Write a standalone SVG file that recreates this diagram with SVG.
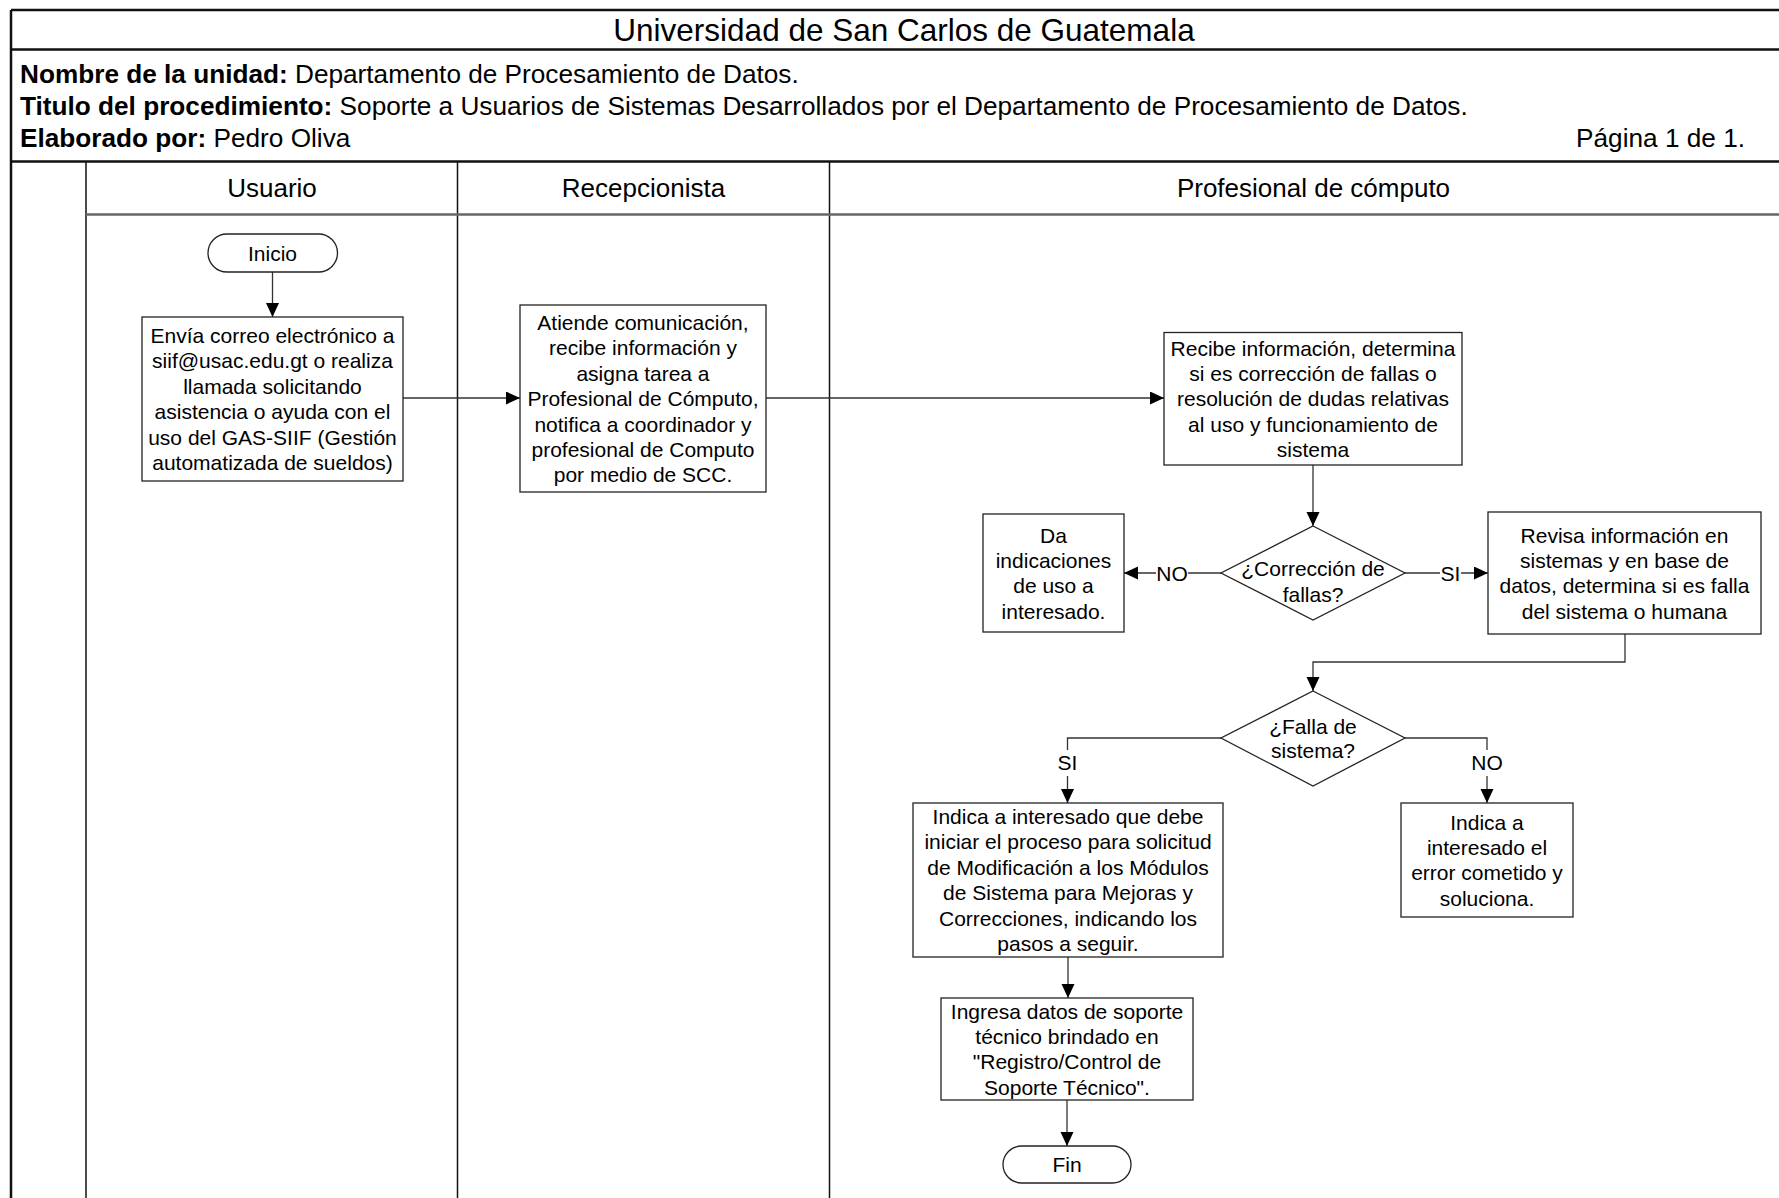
<svg xmlns="http://www.w3.org/2000/svg" width="1779" height="1198" viewBox="0 0 1779 1198">
<defs>
<marker id="ah" markerUnits="userSpaceOnUse" markerWidth="15" markerHeight="14" refX="14" refY="6.5" orient="auto">
<path d="M0,0 L14,6.5 L0,13 z" fill="#000"/>
</marker>
<style>
text{font-family:"Liberation Sans",Arial,sans-serif;fill:#000}
.t{font-size:21px;text-anchor:middle}
.h{font-size:26px;text-anchor:middle}
.i{font-size:26.2px}
.b{font-weight:bold}
.box{fill:#fff;stroke:#222;stroke-width:1.3}
.frame{stroke:#111;stroke-width:2.5;fill:none}
.lane{stroke:#111;stroke-width:1.5;fill:none}
.hl{stroke:#666;stroke-width:2.5;fill:none}
.c{stroke:#333;stroke-width:1.3;fill:none}
.ca{stroke:#333;stroke-width:1.3;fill:none;marker-end:url(#ah)}
.lbl{fill:#fff;stroke:none}
</style>
</defs>
<rect width="1779" height="1198" fill="#fff"/>
<g id="frame">
<line class="frame" x1="11" y1="10" x2="1779" y2="10"/>
<line class="frame" x1="11" y1="10" x2="11" y2="1198"/>
<line class="frame" x1="11" y1="49.5" x2="1779" y2="49.5"/>
<line class="frame" x1="11" y1="161.5" x2="1779" y2="161.5"/>
<line class="lane" x1="86" y1="161.5" x2="86" y2="1198"/>
<line class="lane" x1="457.5" y1="161.5" x2="457.5" y2="1198"/>
<line class="lane" x1="829.5" y1="161.5" x2="829.5" y2="1198"/>
<line class="hl" x1="86" y1="214.5" x2="1779" y2="214.5"/>
<text x="904" y="41" style="font-size:31.5px;text-anchor:middle">Universidad de San Carlos de Guatemala</text>
<text class="i" x="20" y="83"><tspan class="b">Nombre de la unidad:</tspan> Departamento de Procesamiento de Datos.</text>
<text class="i" x="20" y="115"><tspan class="b">Titulo del procedimiento:</tspan> Soporte a Usuarios de Sistemas Desarrollados por el Departamento de Procesamiento de Datos.</text>
<text class="i" x="20" y="146.5"><tspan class="b">Elaborado por:</tspan> Pedro Oliva</text>
<text class="i" x="1745" y="146.5" text-anchor="end">Página 1 de 1.</text>
<text class="h" x="272" y="197">Usuario</text>
<text class="h" x="643.5" y="197">Recepcionista</text>
<text class="h" x="1313.5" y="197">Profesional de cómputo</text>
</g>
<g id="connectors">
<line class="ca" x1="272.5" y1="272" x2="272.5" y2="317"/>
<line class="ca" x1="403" y1="398" x2="520" y2="398"/>
<line class="ca" x1="766" y1="398" x2="1164" y2="398"/>
<line class="ca" x1="1313" y1="465" x2="1313" y2="526"/>
<line class="ca" x1="1221" y1="573" x2="1124" y2="573"/>
<rect class="lbl" x="1156" y="560" width="32" height="26"/>
<text class="t" x="1172" y="580.5">NO</text>
<line class="ca" x1="1405" y1="573" x2="1488" y2="573"/>
<rect class="lbl" x="1440" y="560" width="21" height="26"/>
<text class="t" x="1450.5" y="580.5">SI</text>
<polyline class="ca" points="1625,634 1625,662 1313,662 1313,691"/>
<polyline class="ca" points="1221,738 1067.5,738 1067.5,803"/>
<rect class="lbl" x="1055" y="750" width="25" height="26"/>
<text class="t" x="1067.5" y="769.5">SI</text>
<polyline class="ca" points="1405,738 1487,738 1487,803"/>
<rect class="lbl" x="1471" y="750" width="32" height="26"/>
<text class="t" x="1487" y="769.5">NO</text>
<line class="ca" x1="1068" y1="957" x2="1068" y2="998"/>
<line class="ca" x1="1067" y1="1100" x2="1067" y2="1146"/>
</g>
<g id="inicio">
<rect class="box" x="208" y="234" width="129.5" height="38" rx="19" ry="19"/>
<text class="t" x="272.5" y="260.5">Inicio</text>
</g>
<g id="envia">
<rect class="box" x="142" y="317" width="261" height="164"/>
<text class="t"><tspan x="272.5" y="343">Envía correo electrónico a</tspan><tspan x="272.5" y="368.4">siif@usac.edu.gt o realiza</tspan><tspan x="272.5" y="393.8">llamada solicitando</tspan><tspan x="272.5" y="419.2">asistencia o ayuda con el</tspan><tspan x="272.5" y="444.6">uso del GAS-SIIF (Gestión</tspan><tspan x="272.5" y="470">automatizada de sueldos)</tspan></text>
</g>
<g id="atiende">
<rect class="box" x="520" y="305" width="246" height="187"/>
<text class="t"><tspan x="643" y="330">Atiende comunicación,</tspan><tspan x="643" y="355.4">recibe información y</tspan><tspan x="643" y="380.8">asigna tarea a</tspan><tspan x="643" y="406.2">Profesional de Cómputo,</tspan><tspan x="643" y="431.6">notifica a coordinador y</tspan><tspan x="643" y="457">profesional de Computo</tspan><tspan x="643" y="482.4">por medio de SCC.</tspan></text>
</g>
<g id="recibe">
<rect class="box" x="1164" y="332.5" width="298" height="132.5"/>
<text class="t"><tspan x="1313" y="355.5">Recibe información, determina</tspan><tspan x="1313" y="380.9">si es corrección de fallas o</tspan><tspan x="1313" y="406.3">resolución de dudas relativas</tspan><tspan x="1313" y="431.7">al uso y funcionamiento de</tspan><tspan x="1313" y="457.1">sistema</tspan></text>
</g>
<g id="dec-correccion">
<polygon class="box" points="1313,526 1405,573 1313,620 1221,573"/>
<text class="t"><tspan x="1313" y="575.5">¿Corrección de</tspan><tspan x="1313" y="601.5">fallas?</tspan></text>
</g>
<g id="da-indicaciones">
<rect class="box" x="983" y="514" width="141" height="118"/>
<text class="t"><tspan x="1053.5" y="542.5">Da</tspan><tspan x="1053.5" y="567.9">indicaciones</tspan><tspan x="1053.5" y="593.3">de uso a</tspan><tspan x="1053.5" y="618.7">interesado.</tspan></text>
</g>
<g id="revisa">
<rect class="box" x="1488" y="512" width="273" height="122"/>
<text class="t"><tspan x="1624.5" y="542.5">Revisa información en</tspan><tspan x="1624.5" y="567.9">sistemas y en base de</tspan><tspan x="1624.5" y="593.3">datos, determina si es falla</tspan><tspan x="1624.5" y="618.7">del sistema o humana</tspan></text>
</g>
<g id="dec-falla">
<polygon class="box" points="1313,691 1405,738 1313,786 1221,738"/>
<text class="t"><tspan x="1313" y="733.5">¿Falla de</tspan><tspan x="1313" y="757.5">sistema?</tspan></text>
</g>
<g id="indica-debe">
<rect class="box" x="913" y="803" width="310" height="154"/>
<text class="t"><tspan x="1068" y="824">Indica a interesado que debe</tspan><tspan x="1068" y="849.4">iniciar el proceso para solicitud</tspan><tspan x="1068" y="874.8">de Modificación a los Módulos</tspan><tspan x="1068" y="900.2">de Sistema para Mejoras y</tspan><tspan x="1068" y="925.6">Correcciones, indicando los</tspan><tspan x="1068" y="951">pasos a seguir.</tspan></text>
</g>
<g id="indica-el">
<rect class="box" x="1401" y="803" width="172" height="114"/>
<text class="t"><tspan x="1487" y="829.5">Indica a</tspan><tspan x="1487" y="854.9">interesado el</tspan><tspan x="1487" y="880.3">error cometido y</tspan><tspan x="1487" y="905.7">soluciona.</tspan></text>
</g>
<g id="ingresa">
<rect class="box" x="941" y="998" width="252" height="102"/>
<text class="t"><tspan x="1067" y="1018.5">Ingresa datos de soporte</tspan><tspan x="1067" y="1043.9">técnico brindado en</tspan><tspan x="1067" y="1069.3">"Registro/Control de</tspan><tspan x="1067" y="1094.7">Soporte Técnico".</tspan></text>
</g>
<g id="fin">
<rect class="box" x="1003" y="1146" width="128" height="37" rx="18.5" ry="18.5"/>
<text class="t" x="1067" y="1172">Fin</text>
</g>
</svg>
